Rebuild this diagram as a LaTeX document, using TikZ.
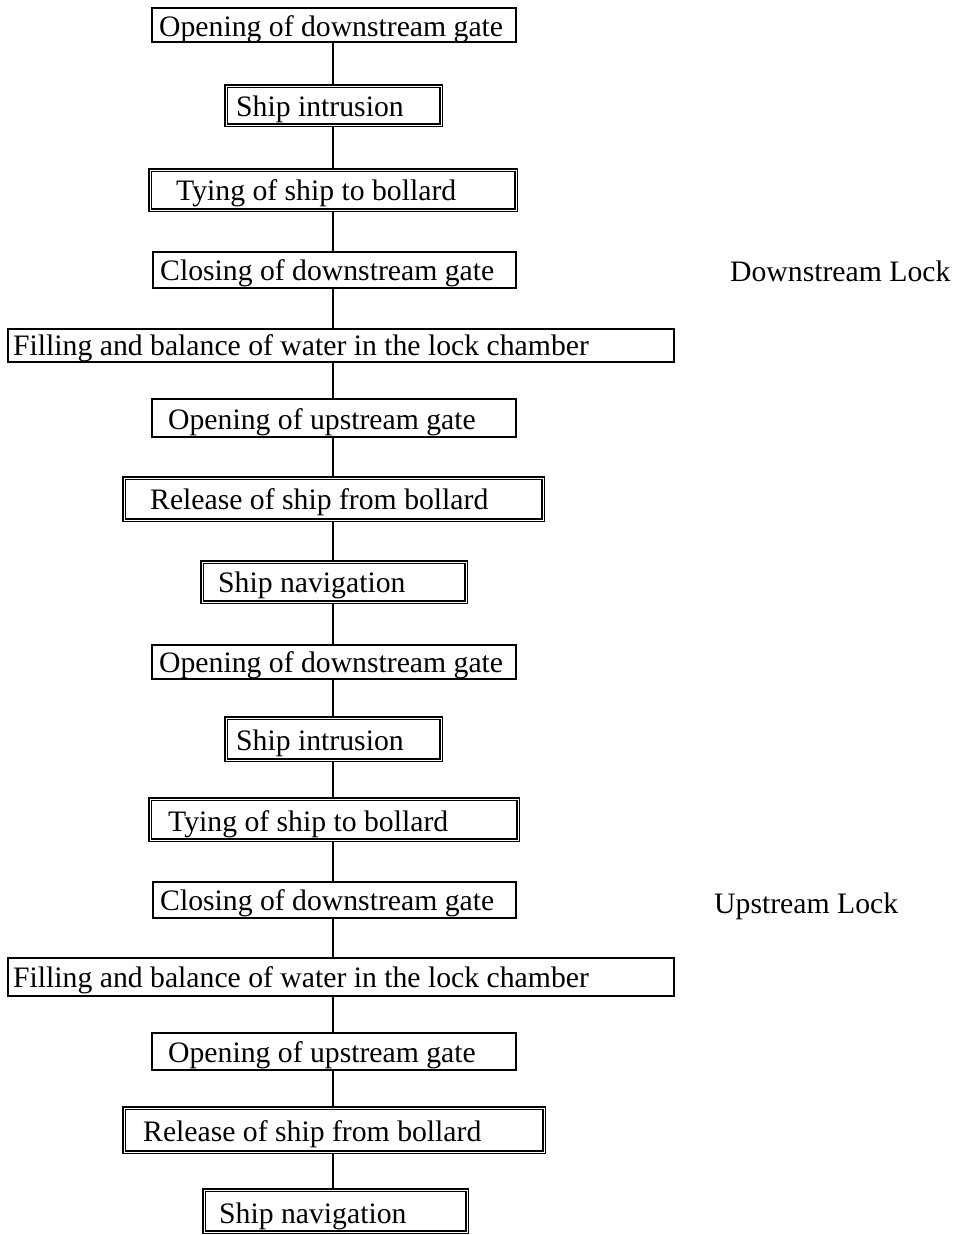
\documentclass[tikz,border=0pt]{standalone}
\usepackage{fontspec}
\setmainfont{Liberation Serif}
\begin{document}
\begin{tikzpicture}[x=1pt,y=-1pt,
  thinbox/.style={draw, line width=1.3pt, rectangle, inner sep=0pt},
  thickbox/.style={draw, line width=1.5pt, double, double distance=0.8pt, rectangle, inner sep=0pt},
  txt/.style={inner sep=0pt, anchor=base west, font=\fontsize{29.7}{36}\selectfont},
  conn/.style={line width=1.5pt}]
\useasboundingbox (0,0) rectangle (958,1235);
\coordinate (sp) at (333,0);
% boxes: center, width, height
\node[thinbox,  minimum width=364pt, minimum height=34pt] (b1)  at (334,25) {};
\node[thickbox, minimum width=215pt, minimum height=39pt] (b2)  at (333.5,105.5) {};
\node[thickbox, minimum width=366pt, minimum height=40pt] (b3)  at (333,190) {};
\node[thinbox,  minimum width=363pt, minimum height=36pt] (b4)  at (334.5,270) {};
\node[thinbox,  minimum width=666pt, minimum height=33pt] (b5)  at (341,345.5) {};
\node[thinbox,  minimum width=364pt, minimum height=38pt] (b6)  at (334,418) {};
\node[thickbox, minimum width=419pt, minimum height=42pt] (b7)  at (333.5,499) {};
\node[thickbox, minimum width=264pt, minimum height=40pt] (b8)  at (334,582) {};
\node[thinbox,  minimum width=364pt, minimum height=34pt] (b9)  at (334,662) {};
\node[thickbox, minimum width=215pt, minimum height=42pt] (b10) at (333.5,739) {};
\node[thickbox, minimum width=368pt, minimum height=41pt] (b11) at (334,819.5) {};
\node[thinbox,  minimum width=363pt, minimum height=36pt] (b12) at (334.5,900) {};
\node[thinbox,  minimum width=666pt, minimum height=38pt] (b13) at (341,977) {};
\node[thinbox,  minimum width=364pt, minimum height=37pt] (b14) at (334,1051.5) {};
\node[thickbox, minimum width=420pt, minimum height=44pt] (b15) at (334,1130) {};
\node[thickbox, minimum width=263pt, minimum height=42pt] (b16) at (335.5,1211) {};
% texts
\node[txt] (t1)  at (159,36)   {Opening of downstream gate};
\node[txt] (t2)  at (236,116)  {Ship intrusion};
\node[txt] (t3)  at (176,200)  {Tying of ship to bollard};
\node[txt] (t4)  at (160,280)  {Closing of downstream gate};
\node[txt] (t5)  at (13,355)   {Filling and balance of water in the lock chamber};
\node[txt] (t6)  at (168,429)  {Opening of upstream gate};
\node[txt] (t7)  at (150,509)  {Release of ship from bollard};
\node[txt] (t8)  at (218,592)  {Ship navigation};
\node[txt] (t9)  at (159,672)  {Opening of downstream gate};
\node[txt] (t10) at (236,750)  {Ship intrusion};
\node[txt] (t11) at (168,831)  {Tying of ship to bollard};
\node[txt] (t12) at (160,910)  {Closing of downstream gate};
\node[txt] (t13) at (13,987)   {Filling and balance of water in the lock chamber};
\node[txt] (t14) at (168,1062) {Opening of upstream gate};
\node[txt] (t15) at (143,1141) {Release of ship from bollard};
\node[txt] (t16) at (219,1223) {Ship navigation};
% side labels
\node[txt] (ld) at (730,281) {Downstream Lock};
\node[txt] (lu) at (714,913) {Upstream Lock};
% connectors
\foreach \a/\b in {b1/b2,b2/b3,b3/b4,b4/b5,b5/b6,b6/b7,b7/b8,b8/b9,b9/b10,b10/b11,b11/b12,b12/b13,b13/b14,b14/b15,b15/b16}
  \draw[conn] (\a.south -| sp) -- (\b.north -| sp);
\end{tikzpicture}
\end{document}
